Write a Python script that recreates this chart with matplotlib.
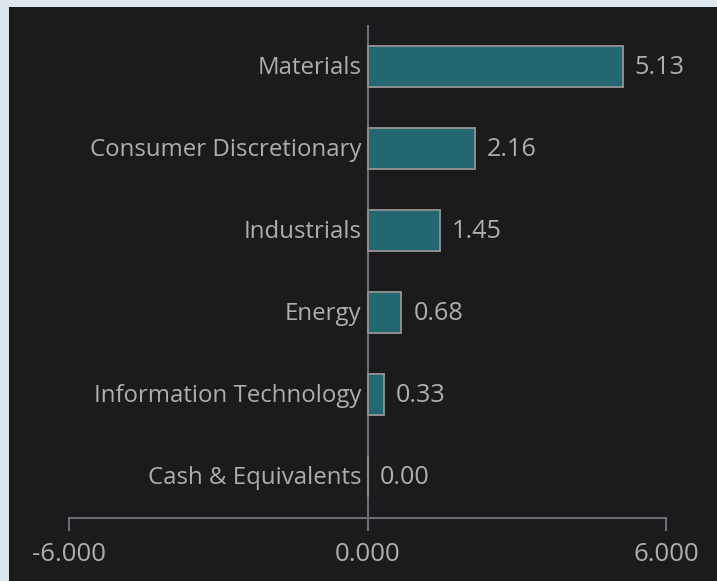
import matplotlib
matplotlib.use("Agg")
import matplotlib.pyplot as plt
from matplotlib.patches import Rectangle
import matplotlib.transforms as mtransforms

categories = ["Materials", "Consumer Discretionary", "Industrials", "Energy",
              "Information Technology", "Cash & Equivalents"]
values = [5.13, 2.16, 1.45, 0.68, 0.33, 0.00]
xticks = [-6, 0, 6]
xtick_labels = ["-6.000", "0.000", "6.000"]

W, H = 717, 581
fig = plt.figure(figsize=(W / 100, H / 100), dpi=100)
fig.patch.set_facecolor("#dce7ee")
fig.patches.append(Rectangle((9 / W, 0), 1 - 9 / W, (H - 7) / H,
                             transform=fig.transFigure, facecolor="#1b1b1d",
                             edgecolor="none", zorder=-10))

left = 69 / W
right = 666 / W
bottom = (H - 518) / H
top = (H - 25) / H
ax = fig.add_axes([left, bottom, right - left, top - bottom])
ax.set_facecolor("none")
ax.set_zorder(5)

font = "Open Sans"
fs_cat = 17.3
fs_val = 18.2
fs_tick = 18.5
txt_color = "#aeaeae"
line_color = "#6c6c74"

ypos = list(range(len(categories)))
ax.barh(ypos, values, height=0.5, color="#236870", edgecolor="#8e8e8e",
        linewidth=1.4, zorder=3)
ax.axvline(0, color=line_color, linewidth=1.5, zorder=2)

ax.set_xlim(-6, 6)
ax.set_ylim((518 - 67) / 82, (25 - 67) / 82)

for s in ["top", "right", "left"]:
    ax.spines[s].set_visible(False)
ax.spines["bottom"].set_color(line_color)
ax.spines["bottom"].set_linewidth(1.5)
ax.set_yticks([])
ax.set_xticks(xticks)
ax.set_xticklabels(xtick_labels, family=font, fontsize=fs_tick, color=txt_color)
ax.tick_params(axis="x", length=9, width=1.5, color=line_color, pad=8)

lab_off = mtransforms.offset_copy(ax.transData, fig=fig, x=-6, y=-1, units="dots")
for y, cat in zip(ypos, categories):
    ax.text(0, y, cat, transform=lab_off, ha="right", va="center",
            family=font, fontsize=fs_cat, color=txt_color)

for y, v in zip(ypos, values):
    off = mtransforms.offset_copy(ax.transData, fig=fig, x=12, y=-1, units="dots")
    ax.text(v, y, f"{v:.2f}", transform=off, ha="left", va="center",
            family=font, fontsize=fs_val, color=txt_color)

fig.savefig("out.png", dpi=100, facecolor=fig.get_facecolor())
